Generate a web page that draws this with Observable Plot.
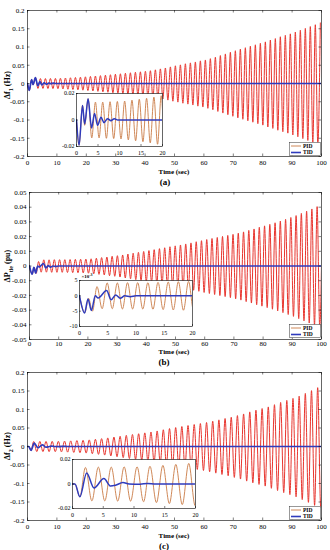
<!DOCTYPE html>
<html><head><meta charset="utf-8">
<script src="https://cdn.jsdelivr.net/npm/d3@7"></script>
<script src="https://cdn.jsdelivr.net/npm/@observablehq/plot@0.6"></script>
<style>
body{margin:0;background:#fff;}
#fig{position:relative;width:330px;height:550px;overflow:hidden;font-family:"Liberation Serif","Times New Roman",serif;color:#000;}
#fig svg{position:absolute;overflow:visible;}
.lab{position:absolute;transform:translate(-50%,-50%);white-space:nowrap;font-weight:bold;line-height:1;}
.ylab{position:absolute;transform:translate(-50%,-50%) rotate(-90deg);white-space:nowrap;font-weight:bold;font-size:8px;line-height:1;}
.ylab sub{font-size:6px;}
</style></head><body><div id="fig"></div>
<script>
// ---------- data ----------
const timeTicks = [0,10,20,30,40,50,60,70,80,90,100];
const insetTimeTicks = [0,5,10,15,20];
const yTicksA = [-0.2,-0.15,-0.1,-0.05,0,0.05,0.1,0.15,0.2];
const yTicksB = [-0.05,-0.04,-0.03,-0.02,-0.01,0,0.01,0.02,0.03,0.04,0.05];
const yTicksC = [-0.2,-0.15,-0.1,-0.05,0,0.05,0.1,0.15,0.2];
const insetYTicksA = [-0.02,0,0.02];
const insetYTicksB = [-0.01,-0.005,0,0.005];
const insetYTicksC = [-0.02,0,0.02];
const seriesNames = ["PID","TID"];
const panelLetters = ["(a)","(b)","(c)"];
const xTitle = "Time (sec)";

// TID responses: [time, value] turning points
const tidA = [[0,0],[0.6,-0.019],[1.4,0.011],[1.9,-0.003],[2.7,0.016],[3.5,-0.006],[4.2,0.005],[4.9,-0.004],[5.7,0.002],[6.4,-0.002],[7.2,0.001],[8.0,-0.0005],[8.8,0.001],[9.6,0],[100,0]];
const tidB = [[0,0],[0.9,-0.0056],[1.5,-0.001],[2.1,-0.0048],[2.8,0],[3.3,-0.0007],[4.8,0.0017],[5.6,-0.0013],[6.4,0.0003],[7.2,-0.0008],[8.0,0],[9.0,-0.0003],[10,0],[100,0]];
const tidC = [[0,0],[0.4,0],[1.2,-0.0105],[2.3,0.009],[3.5,-0.0033],[5.1,0.0045],[6.2,-0.0017],[7.0,-0.001],[8.2,0.0012],[9.2,0],[11.0,-0.0002],[12.2,0.0005],[13.5,0],[100,0]];

// PID responses: initial turning points, then one peak amplitude per cycle
const pidStartA = [[0,0],[0.6,-0.019],[1.4,0.011],[1.9,-0.004],[2.7,0.016]];
const pidFirstTroughA = 3.55, pidPeriodA = 1.7;
const pidAmpA = [0.0135,0.0135,0.0138,0.014,0.0143,0.015,0.0157,0.0164,0.0173,0.0183,0.0193,0.0205,0.0215,0.0228,0.024,0.0254,0.0266,0.028,0.0294,0.0307,0.032,0.0335,0.035,0.0375,0.04,0.0425,0.0455,0.0485,0.051,0.054,0.0565,0.059,0.062,0.0645,0.068,0.072,0.0765,0.081,0.0855,0.0898,0.094,0.098,0.102,0.106,0.11,0.114,0.119,0.123,0.128,0.132,0.136,0.141,0.146,0.151,0.156,0.161,0.166];

const pidStartB = [[0,0],[0.95,-0.0055],[1.6,-0.0008],[2.3,-0.005],[3.1,0.003]];
const pidFirstTroughB = 4.0, pidPeriodB = 1.8;
const pidAmpB = [0.0042,0.0042,0.0043,0.0043,0.0043,0.0044,0.0045,0.0046,0.0047,0.0049,0.0053,0.0057,0.0061,0.0066,0.007,0.0075,0.0081,0.0087,0.0093,0.0099,0.0105,0.0111,0.0118,0.0124,0.0131,0.0137,0.0143,0.015,0.0157,0.0165,0.0172,0.018,0.0187,0.0194,0.0201,0.0208,0.0215,0.0223,0.0232,0.0242,0.0252,0.0263,0.0273,0.0283,0.0294,0.0305,0.0317,0.033,0.0343,0.0358,0.0373,0.0388,0.0404,0.042];

const pidStartC = [[0,0],[0.4,0],[1.2,-0.0105],[2.1,0.0135]];
const pidFirstTroughC = 3.15, pidPeriodC = 2.1;
const pidAmpC = [0.0138,0.0138,0.014,0.014,0.0145,0.0152,0.016,0.0168,0.0178,0.0195,0.0212,0.0232,0.0255,0.0275,0.03,0.0325,0.0345,0.0368,0.0392,0.042,0.0452,0.0485,0.0512,0.054,0.0567,0.0594,0.062,0.0648,0.0684,0.072,0.0756,0.079,0.0835,0.088,0.0935,0.098,0.1025,0.107,0.113,0.119,0.1245,0.13,0.136,0.1435,0.151,0.159,0.166];

// ---------- build tables ----------
function pts(arr){ return arr.map(([t,v]) => ({t, v})); }
function pidTable(start, t0, P, amps){
  const out = pts(start);
  amps.forEach((a,k) => {
    out.push({t: t0 + k*P, v: -a});
    out.push({t: t0 + k*P + P/2, v: a});
  });
  return out;
}
const pidA = pidTable(pidStartA, pidFirstTroughA, pidPeriodA, pidAmpA);
const pidB = pidTable(pidStartB, pidFirstTroughB, pidPeriodB, pidAmpB);
const pidC = pidTable(pidStartC, pidFirstTroughC, pidPeriodC, pidAmpC);

const PID_MAIN = "#e8352e", PID_INSET = "#c97b45", TID_COL = "#2f3bbd";
const fig = document.getElementById("fig");
const fmt = d => d === 0 ? "0" : String(+d.toFixed(3));
const FONT = "Liberation Serif, Times New Roman, serif";

function place(el, left, top){ el.style.left = left+"px"; el.style.top = top+"px"; fig.appendChild(el); }

function mainPlot(o){
  const W = 330, innerW = W - o.ml - 9, innerH = o.H - o.mt - o.mb;
  const p = Plot.plot({
    width: W, height: o.H, marginTop: o.mt, marginBottom: o.mb, marginLeft: o.ml, marginRight: 9,
    style: {fontFamily: FONT, fontSize: "7px", background: "transparent", color: "#000"},
    x: {domain: [0,100], ticks: timeTicks, tickSize: 0, tickPadding: o.tp, tickFormat: d => String(d), label: null},
    y: {domain: o.yDomain, ticks: o.yTicks, tickSize: 0, tickPadding: 3, tickFormat: fmt, label: null},
    marks: [
      Plot.line(o.pid, {x: "t", y: "v", stroke: PID_MAIN, strokeWidth: 1, curve: "monotone-x", clip: true}),
      Plot.line(o.tid, {x: "t", y: "v", stroke: TID_COL, strokeWidth: 1.7, curve: "monotone-x", clip: true}),
      Plot.tickX(timeTicks, {x: d => d, insetTop: innerH - 2.5, stroke: "#000", strokeWidth: 0.5}),
      Plot.tickX(timeTicks, {x: d => d, insetBottom: innerH - 2.5, stroke: "#000", strokeWidth: 0.5}),
      Plot.tickY(o.yTicks, {y: d => d, insetRight: innerW - 2.5, stroke: "#000", strokeWidth: 0.5}),
      Plot.tickY(o.yTicks, {y: d => d, insetLeft: innerW - 2.5, stroke: "#000", strokeWidth: 0.5}),
      Plot.frame({stroke: "#000", strokeWidth: 0.6})
    ]
  });
  place(p, 0, o.top);
}

function insetPlot(o){
  const ml = 22, mr = 4, mt = 4, mb = 12;
  const w = o.right - o.left, h = o.bottom - o.top;
  const p = Plot.plot({
    width: w + ml + mr, height: h + mt + mb, marginLeft: ml, marginRight: mr, marginTop: mt, marginBottom: mb,
    style: {fontFamily: FONT, fontSize: "6px", background: "transparent", color: "#000"},
    x: {domain: [0,20], ticks: insetTimeTicks, tickSize: 0, tickPadding: 4, tickFormat: d => String(d), label: null},
    y: {domain: o.yDomain, ticks: o.yTicks, tickSize: 0, tickPadding: 2, tickFormat: o.fmt, label: null},
    marks: [
      Plot.frame({fill: "#fff", stroke: "none"}),
      Plot.line(o.pid.filter(d => d.t <= 23), {x: "t", y: "v", stroke: PID_INSET, strokeWidth: 0.9, curve: "monotone-x", clip: true}),
      Plot.line(o.tid, {x: "t", y: "v", stroke: TID_COL, strokeWidth: 1.5, curve: "monotone-x", clip: true}),
      Plot.tickX(insetTimeTicks, {x: d => d, insetTop: h - 2, stroke: "#000", strokeWidth: 0.5}),
      Plot.tickY(o.yTicks, {y: d => d, insetRight: w - 2, stroke: "#000", strokeWidth: 0.5}),
      Plot.frame({stroke: "#000", strokeWidth: 0.6})
    ]
  });
  place(p, o.left - ml, o.top - mt);
}

function legend(left, top){
  const w = 32, h = 14;
  const svg = d3.create("svg").attr("width", w).attr("height", h);
  svg.append("rect").attr("x",0.3).attr("y",0.3).attr("width",w-0.6).attr("height",h-0.6)
     .attr("fill","#fff").attr("stroke","#333").attr("stroke-width",0.5);
  const cols = [PID_INSET, TID_COL], widths = [0.9, 1.6];
  seriesNames.forEach((n,i) => {
    const y = 4 + i*6.5;
    svg.append("line").attr("x1",2).attr("x2",12).attr("y1",y).attr("y2",y)
       .attr("stroke",cols[i]).attr("stroke-width",widths[i]);
    svg.append("text").attr("x",14).attr("y",y).attr("dy","0.35em")
       .attr("font-family",FONT).attr("font-size","5.5px").attr("font-weight","bold").text(n);
  });
  place(svg.node(), left, top);
}

function label(html, cls, x, y, size){
  const d = document.createElement("div");
  d.className = cls; d.innerHTML = html;
  if (size) d.style.fontSize = size + "px";
  place(d, x, y);
}

// Panel (a)
mainPlot({top: 0, H: 185, mt: 10, mb: 29, ml: 27, tp: 4, yDomain: [-0.2,0.2], yTicks: yTicksA, pid: pidA, tid: pts(tidA)});
insetPlot({left: 76, right: 162, top: 93, bottom: 146, yDomain: [-0.02,0.02], yTicks: insetYTicksA, fmt: fmt, pid: pidA, tid: pts(tidA)});
legend(289, 142);
label("Δf<sub>1</sub> (Hz)", "ylab", 9, 85);
label(xTitle, "lab", 174, 171.5, 7);
label(panelLetters[0], "lab", 165, 182, 9);

// Panel (b)
mainPlot({top: 180, H: 185, mt: 12, mb: 26, ml: 29, tp: 2, yDomain: [-0.05,0.05], yTicks: yTicksB, pid: pidB, tid: pts(tidB)});
insetPlot({left: 79, right: 192, top: 280, bottom: 326, yDomain: [-0.01,0.005], yTicks: insetYTicksB, fmt: d => String(Math.round(d*1000)), pid: pidB, tid: pts(tidB)});
legend(289, 324);
label("ΔP<sub>tie</sub> (pu)", "ylab", 9, 266);
label(xTitle, "lab", 174, 352, 7);
label(panelLetters[1], "lab", 164, 362, 9);
label("×10<sup style='font-size:4px'>-3</sup>", "lab", 87, 276, 5);

// Panel (c)
mainPlot({top: 365, H: 185, mt: 7, mb: 30, ml: 27, tp: 4, yDomain: [-0.2,0.2], yTicks: yTicksC, pid: pidC, tid: pts(tidC)});
insetPlot({left: 72, right: 195, top: 459, bottom: 508, yDomain: [-0.02,0.02], yTicks: insetYTicksC, fmt: fmt, pid: pidC, tid: pts(tidC)});
legend(289, 506);
label("Δf<sub>2</sub> (Hz)", "ylab", 9, 446);
label(xTitle, "lab", 174, 536, 7);
label(panelLetters[2], "lab", 164, 546, 9);
</script></body></html>
